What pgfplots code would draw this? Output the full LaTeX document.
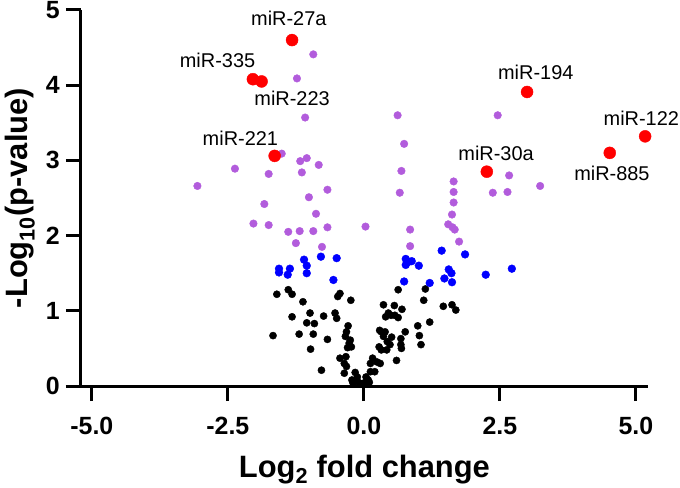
\documentclass[border=0pt]{standalone}
\usepackage{fontspec}
\setmainfont{Liberation Sans}
\usepackage{pgfplots}
\pgfplotsset{compat=1.18}
\definecolor{vpurple}{RGB}{178,92,220}
\definecolor{vblue}{RGB}{0,0,255}
\definecolor{vred}{RGB}{255,0,0}
\begin{document}
\begin{tikzpicture}
\useasboundingbox (-81bp,-102bp) rectangle (599bp,386bp);
\begin{axis}[
  x=54.4bp, y=75.2bp,
  xmin=-5.2, xmax=5.22, ymin=0, ymax=5,
  axis x line*=bottom, axis y line*=left,
  axis line style={-, line width=3bp, black},
  tick align=outside,
  major tick length=15bp,
  tick style={line width=3bp, black},
  xtick={-5,-2.5,0,2.5,5},
  xticklabels={-5.0,-2.5,0.0,2.5,5.0},
  ytick={0,1,2,3,4,5},
  yticklabels={0,1,2,3,4,5},
  tick label style={font=\fontsize{25}{30}\selectfont\bfseries},
  xticklabel style={anchor=base, yshift=-33.6bp},
  yticklabel style={anchor=east, inner sep=0pt, xshift=-6bp},
  xlabel={Log\textsubscript{2} fold change},
  ylabel={-Log\textsubscript{10}(p-value)},
  label style={font=\fontsize{31}{36}\selectfont\bfseries},
  xlabel style={at={(rel axis cs:0.5,0)}, anchor=base, yshift=-91bp},
  ylabel style={at={(rel axis cs:0,0.5)}, anchor=base, yshift=53bp},
  clip=false,
]
\draw[line width=3bp] (axis cs:-5.48,0) -- (axis cs:-5.2,0);
% non-significant
\addplot[only marks, mark=*, mark size=3.6bp, black] table {
x y
-1.67 0.67
-1.60 1.22
-1.39 1.28
-1.32 1.22
-1.12 1.12
-1.32 0.92
-0.99 0.97
-1.05 0.84
-0.91 0.83
-0.74 0.93
-0.53 0.97
-0.50 0.90
-0.48 1.19
-0.44 1.23
-0.24 1.14
-1.19 0.69
-0.93 0.69
-0.67 0.62
-0.98 0.49
-0.78 0.21
-0.29 0.80
-0.32 0.72
-0.34 0.66
-0.25 0.61
-0.27 0.57
-0.30 0.51
-0.23 0.52
-0.44 0.37
-0.33 0.39
-0.36 0.30
-0.32 0.26
-0.36 0.17
-0.16 0.18
-0.22 0.08
-0.12 0.12
-0.20 0.04
-0.08 0.04
-0.02 0.02
-0.12 0.06
0.05 0.03
0.10 0.05
0.00 0.04
0.04 0.12
0.08 0.08
0.12 0.30
0.16 0.37
0.24 0.32
0.30 0.30
0.12 0.19
0.20 0.19
0.28 0.52
0.32 0.48
0.42 0.48
0.32 0.72
0.36 0.66
0.29 0.74
0.39 0.72
0.51 0.65
0.48 0.55
0.43 0.59
0.60 0.34
0.68 0.63
0.68 0.55
0.69 0.50
0.76 0.72
1.02 0.67
1.05 0.55
0.99 0.80
1.21 0.85
0.36 1.08
0.40 0.92
0.45 0.97
0.50 0.94
0.57 0.94
0.56 1.07
0.63 0.91
0.70 1.02
0.63 1.28
1.13 1.29
1.10 1.14
1.46 1.06
1.62 1.08
1.69 1.01
};
% blue
\addplot[only marks, mark=*, mark size=3.9bp, vblue] table {
x y
-1.56 1.56
-1.56 1.51
-1.40 1.48
-1.36 1.56
-1.10 1.68
-1.05 1.60
-1.05 1.50
-0.79 1.72
-0.50 1.70
-0.56 1.41
0.77 1.69
0.82 1.65
0.77 1.61
0.88 1.66
1.01 1.60
0.74 1.39
1.21 1.37
1.43 1.80
1.86 1.75
1.56 1.55
1.61 1.50
1.48 1.43
1.62 1.38
2.24 1.48
2.72 1.56
};
% purple
\addplot[only marks, mark=*, mark size=3.8bp, vpurple] table {
x y
-3.06 2.66
-2.37 2.89
-1.75 2.82
-1.51 3.09
-0.93 4.41
-1.23 4.09
-1.08 3.57
-1.17 2.99
-1.05 3.03
-0.83 2.94
-1.14 2.84
-0.67 2.61
-1.01 2.51
-1.83 2.42
-2.03 2.16
-1.75 2.14
-1.39 2.05
-0.88 2.29
-1.18 2.06
-0.93 2.06
-0.67 2.11
-1.25 1.90
-0.77 1.85
0.03 2.12
0.62 3.60
0.74 3.22
0.69 2.86
0.66 2.57
0.85 2.08
0.85 1.86
1.65 2.72
1.65 2.58
1.65 2.44
1.62 2.28
1.55 2.15
1.63 2.11
1.67 2.08
1.75 1.92
2.46 3.60
2.67 2.80
2.37 2.57
2.64 2.58
3.24 2.66
};
% red
\addplot[only marks, mark=*, mark size=6bp, vred] table {
x y
-1.32 4.60
-2.04 4.08
-1.88 4.05
-1.64 3.06
3.00 3.91
5.17 3.32
4.52 3.10
2.26 2.85
};
\begin{scope}[every node/.style={font=\fontsize{20}{24}\selectfont, anchor=base}]
\node at (axis cs:-1.38,4.79) {miR-27a};
\node at (axis cs:-2.69,4.23) {miR-335};
\node at (axis cs:-1.32,3.73) {miR-223};
\node at (axis cs:-2.27,3.20) {miR-221};
\node at (axis cs:3.16,4.07) {miR-194};
\node at (axis cs:5.10,3.47) {miR-122};
\node at (axis cs:2.43,3.00) {miR-30a};
\node at (axis cs:4.56,2.73) {miR-885};
\end{scope}
\end{axis}
\end{tikzpicture}
\end{document}
